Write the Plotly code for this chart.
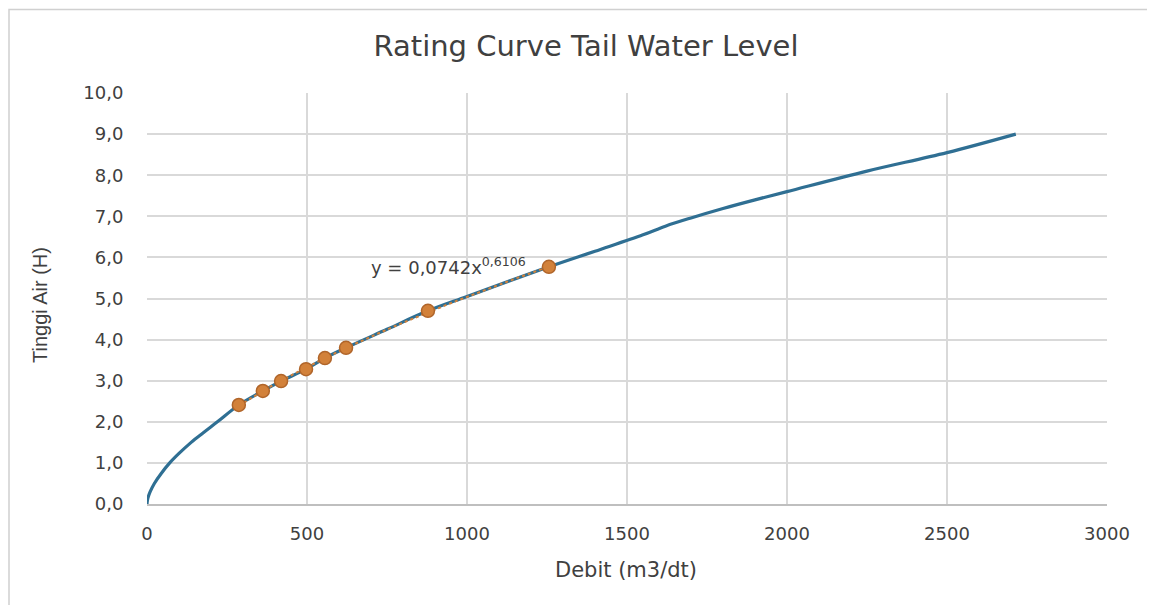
import numpy as np
import plotly.graph_objects as go

# Rating curve (blue line)
curve_q = [0, 1, 3, 10, 23, 45, 71, 100, 138, 175, 220, 287, 362, 419, 497, 556, 622, 750, 878, 1000,
           1256, 1400, 1550, 1620, 1700, 1800, 1900, 2000, 2250, 2500, 2715]
curve_h = [0, 0.07, 0.15, 0.30, 0.5, 0.75, 1.0, 1.23, 1.5, 1.73, 2.0, 2.41, 2.75, 2.99, 3.28, 3.55, 3.80, 4.25, 4.70, 5.05,
           5.77, 6.15, 6.55, 6.76, 6.96, 7.19, 7.40, 7.6, 8.1, 8.55, 9.0]

# Measured points (orange)
obs_q = [287, 362, 419, 497, 556, 622, 878, 1256]
obs_h = [2.41, 2.75, 2.99, 3.28, 3.55, 3.80, 4.70, 5.77]

x_ticks = [0, 500, 1000, 1500, 2000, 2500, 3000]
y_ticks = [0, 1, 2, 3, 4, 5, 6, 7, 8, 9, 10]

# power trendline fitted to the measured points (as Excel does)
b, ln_a = np.polyfit(np.log(obs_q), np.log(obs_h), 1)
tq = np.linspace(min(obs_q), max(obs_q), 60)
th = np.exp(ln_a) * tq ** b

FONT = "DejaVu Sans, sans-serif"
FONT2 = "Liberation Sans, Arial, sans-serif"
TXT = "#404040"
BLUE = "#2f6f93"
ORANGE = "#d2813a"

# body has an 8px margin in the page: compensate
W, H = 1147, 597
L, T, R, B = 139, 85, 1147 - (1107 - 8), 597 - (504 - 8)

fig = go.Figure()
fig.add_trace(go.Scatter(x=curve_q, y=curve_h, mode="lines",
                         line=dict(color=BLUE, width=3.2, shape="spline", smoothing=1.0),
                         showlegend=False))
fig.add_trace(go.Scatter(x=tq, y=th, mode="lines", line=dict(color=ORANGE, width=2, dash="dot"),
                         showlegend=False))
fig.add_trace(go.Scatter(x=obs_q, y=obs_h, mode="markers",
                         marker=dict(color=ORANGE, size=13, line=dict(color="#b0652a", width=1.5)),
                         showlegend=False))

fig.add_annotation(x=941, y=5.78, xref="x", yref="y", showarrow=False,
                   text="y = 0,0742x<sup>0,6106</sup>", font=dict(family=FONT, size=18, color=TXT))

# axis titles
fig.add_annotation(x=(626 - 147) / 960, y=(504 - 570) / 411, xref="paper", yref="paper", showarrow=False,
                   xanchor="center", yanchor="middle",
                   text="Debit (m3/dt)", font=dict(family=FONT, size=21, color=TXT))
fig.add_annotation(x=(40 - 147) / 960, y=(504 - 305) / 411, xref="paper", yref="paper", showarrow=False,
                   xanchor="center", yanchor="middle",
                   textangle=-90, text="Tinggi Air (H)", font=dict(family=FONT2, size=20, color=TXT))

fig.update_layout(
    width=W, height=H,
    margin=dict(l=L, r=R, t=T, b=B),
    paper_bgcolor="white", plot_bgcolor="white",
    separators=",.",
    title=dict(text="Rating Curve Tail Water Level", x=(586 - 147) / 960, xref="paper", xanchor="center",
               y=1 - (46 - 8) / H, yanchor="middle",
               font=dict(family=FONT, size=29, color=TXT)),
    font=dict(family=FONT, color=TXT),
)
fig.update_xaxes(range=[0, 3000], tickvals=x_ticks, showgrid=True, gridcolor="#d9d9d9", gridwidth=1.5,
                 zeroline=False, showline=True, linecolor="#bfbfbf", linewidth=1.5,
                 ticks="outside", ticklen=13, tickcolor="rgba(0,0,0,0)",
                 tickfont=dict(size=18, family=FONT, color=TXT))
fig.update_yaxes(range=[0, 10], tickvals=y_ticks, tickformat=".1f", showgrid=True, gridcolor="#d9d9d9",
                 gridwidth=1.5, zeroline=False, showline=False,
                 ticks="outside", ticklen=19, tickcolor="rgba(0,0,0,0)",
                 tickfont=dict(size=18, family=FONT, color=TXT))

# outer chart-area border (left and top edges visible)
fig.add_shape(type="rect", xref="paper", yref="paper",
              x0=(9 - 147) / 960, x1=(1170 - 147) / 960, y0=(504 - 615) / 411, y1=(504 - 9.5) / 411,
              line=dict(color="#d0d0d0", width=1.5), layer="below")

fig.write_html("out.html")
